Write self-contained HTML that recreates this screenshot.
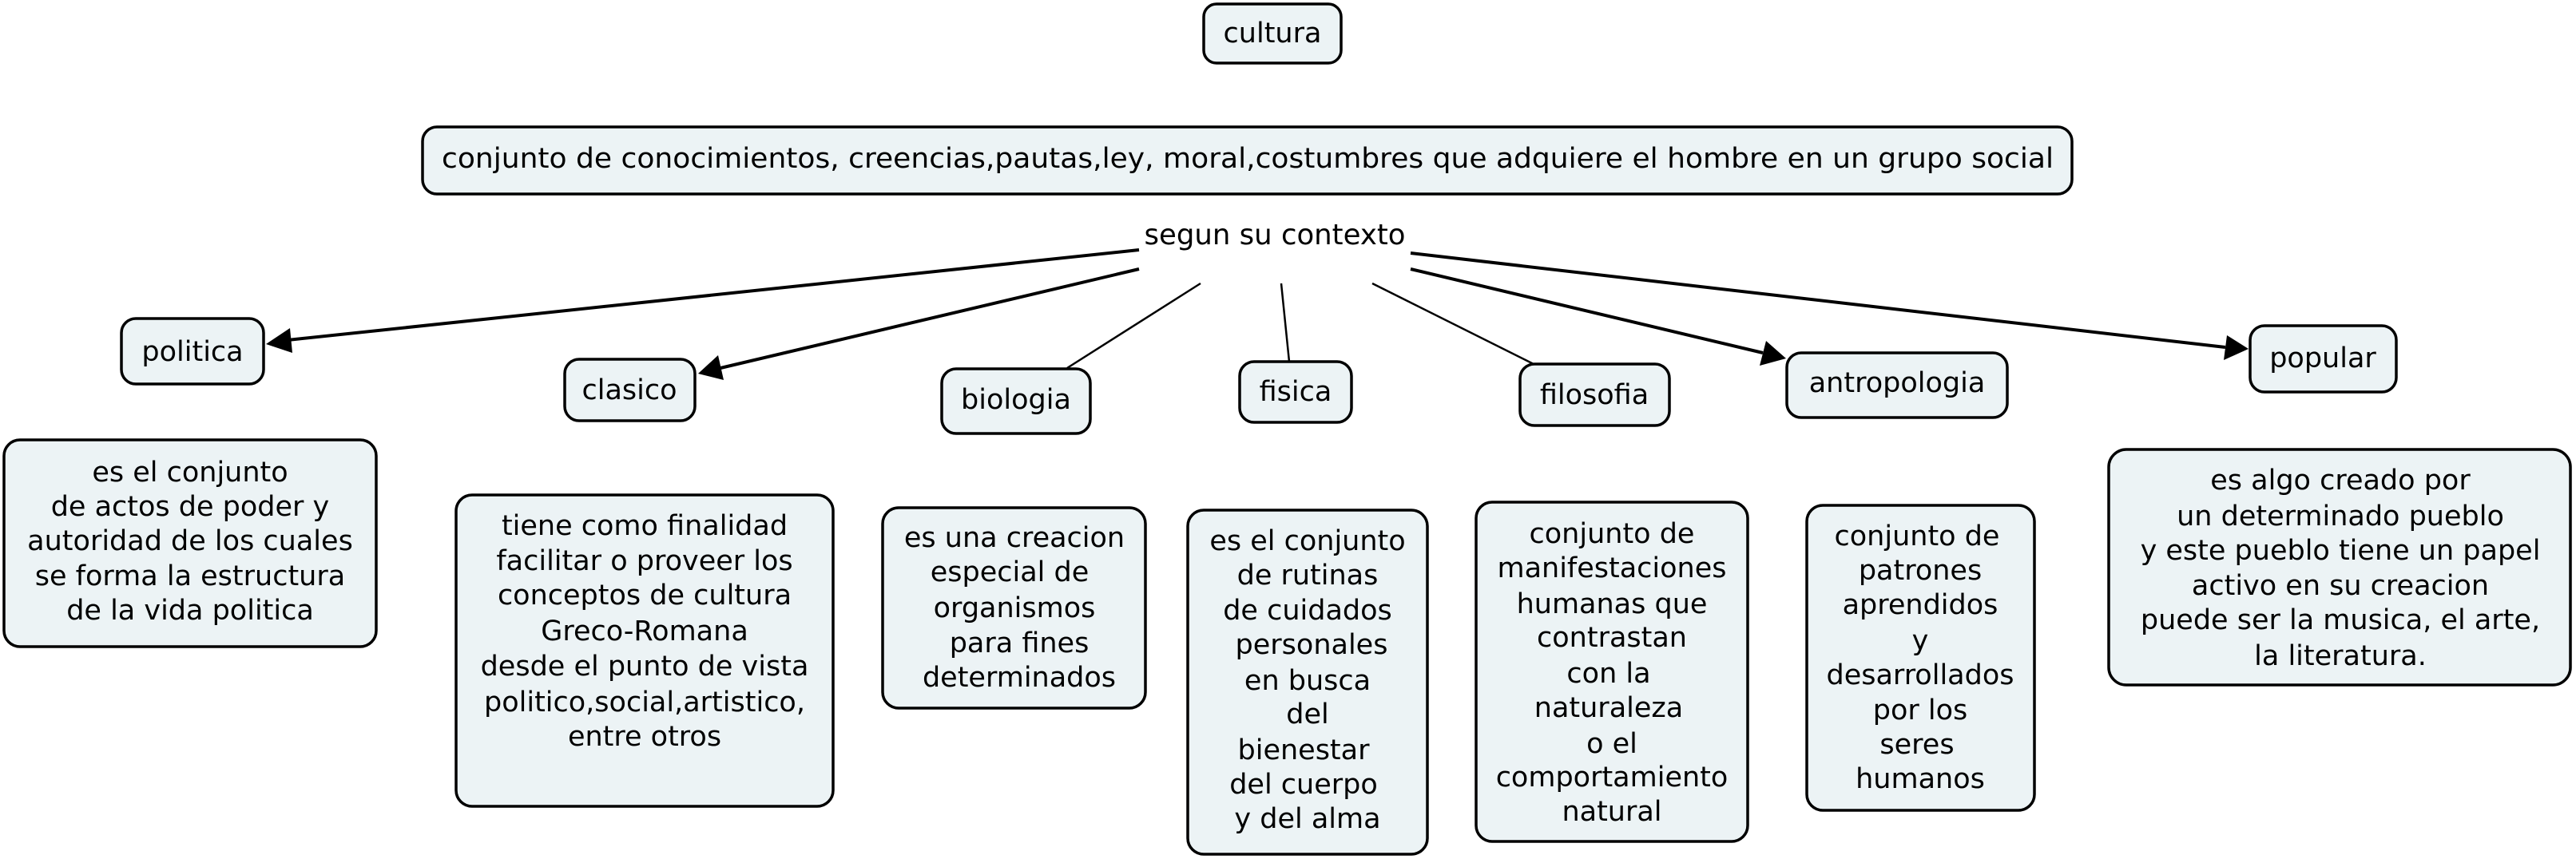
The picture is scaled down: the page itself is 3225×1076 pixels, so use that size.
<!DOCTYPE html>
<html><head><meta charset="utf-8"><style>
html,body{margin:0;padding:0;background:#fff;}
svg{display:block;}
text{font-family:"DejaVu Sans","Liberation Sans",sans-serif;font-size:35px;fill:#000;}
.b{fill:#ecf3f5;stroke:#000;stroke-width:3.5;}
</style></head><body>
<svg width="3225" height="1076" viewBox="0 0 3225 1076" xmlns="http://www.w3.org/2000/svg">
<g stroke="#000" fill="none">
<line x1="1426" y1="313" x2="360" y2="426" stroke-width="4"/>
<line x1="1426" y1="337" x2="902" y2="461" stroke-width="4"/>
<line x1="1503" y1="355" x2="1336" y2="461" stroke-width="2.5"/>
<line x1="1604" y1="355" x2="1614" y2="453" stroke-width="2.5"/>
<line x1="1718" y1="355" x2="1920" y2="456" stroke-width="2.5"/>
<line x1="1766" y1="337" x2="2207" y2="442" stroke-width="4"/>
<line x1="1766" y1="317" x2="2786" y2="435" stroke-width="4"/>
</g>
<g fill="#000">
<polygon points="333,431 363,411 366,442"/>
<polygon points="874,468 899,445 906,476"/>
<polygon points="2236,449 2203,458 2211,427"/>
<polygon points="2815,437 2784,451 2788,420"/>
</g>
<rect class="b" x="1507" y="5" width="172" height="74" rx="16"/>
<text x="1593" y="53" text-anchor="middle">cultura</text>
<rect class="b" x="529" y="159" width="2065" height="84" rx="18"/>
<text x="553" y="210" textLength="2018" lengthAdjust="spacingAndGlyphs">conjunto de conocimientos, creencias,pautas,ley, moral,costumbres que adquiere el hombre en un grupo social</text>
<text x="1596" y="306" text-anchor="middle" style="font-size:35.5px">segun su contexto</text>
<rect class="b" x="152" y="399" width="178" height="82" rx="18"/>
<text x="241" y="452" text-anchor="middle">politica</text>
<rect class="b" x="707" y="450" width="163" height="77" rx="18"/>
<text x="788" y="500" text-anchor="middle">clasico</text>
<rect class="b" x="1179" y="462" width="186" height="81" rx="18"/>
<text x="1272" y="512" text-anchor="middle">biologia</text>
<rect class="b" x="1552" y="453" width="140" height="76" rx="18"/>
<text x="1622" y="502" text-anchor="middle">fisica</text>
<rect class="b" x="1903" y="456" width="187" height="77" rx="18"/>
<text x="1996" y="506" text-anchor="middle">filosofia</text>
<rect class="b" x="2237" y="442" width="276" height="81" rx="18"/>
<text x="2375" y="491" text-anchor="middle">antropologia</text>
<rect class="b" x="2817" y="408" width="183" height="83" rx="18"/>
<text x="2908" y="460" text-anchor="middle">popular</text>
<rect class="b" x="5" y="551" width="466" height="259" rx="20"/>
<g text-anchor="middle">
<text x="238" y="603">es el conjunto</text>
<text x="238" y="646">de actos de poder y</text>
<text x="238" y="689">autoridad de los cuales</text>
<text x="238" y="733">se forma la estructura</text>
<text x="238" y="776">de la vida politica</text>
</g>
<rect class="b" x="571" y="620" width="472" height="390" rx="20"/>
<g text-anchor="middle">
<text x="807" y="670">tiene como finalidad</text>
<text x="807" y="714">facilitar o proveer los</text>
<text x="807" y="757">conceptos de cultura</text>
<text x="807" y="802">Greco-Romana</text>
<text x="807" y="846">desde el punto de vista</text>
<text x="807" y="891">politico,social,artistico,</text>
<text x="807" y="934">entre otros</text>
</g>
<rect class="b" x="1105" y="636" width="329" height="251" rx="20"/>
<g text-anchor="middle">
<text x="1270" y="685">es una creacion</text>
<text x="1264" y="728">especial de</text>
<text x="1270" y="773">organismos</text>
<text x="1276" y="817">para fines</text>
<text x="1276" y="860">determinados</text>
</g>
<rect class="b" x="1487" y="639" width="300" height="431" rx="20"/>
<g text-anchor="middle">
<text x="1637" y="689">es el conjunto</text>
<text x="1637" y="732">de rutinas</text>
<text x="1637" y="776">de cuidados</text>
<text x="1642" y="819">personales</text>
<text x="1637" y="864">en busca</text>
<text x="1637" y="906">del</text>
<text x="1632" y="951">bienestar</text>
<text x="1632" y="994">del cuerpo</text>
<text x="1637" y="1037">y del alma</text>
</g>
<rect class="b" x="1848" y="629" width="340" height="425" rx="20"/>
<g text-anchor="middle">
<text x="2018" y="680">conjunto de</text>
<text x="2018" y="723">manifestaciones</text>
<text x="2018" y="768">humanas que</text>
<text x="2018" y="810">contrastan</text>
<text x="2014" y="855">con la</text>
<text x="2014" y="898">naturaleza</text>
<text x="2018" y="943">o el</text>
<text x="2018" y="985">comportamiento</text>
<text x="2018" y="1028">natural</text>
</g>
<rect class="b" x="2262" y="633" width="285" height="382" rx="20"/>
<g text-anchor="middle">
<text x="2400" y="683">conjunto de</text>
<text x="2404" y="726">patrones</text>
<text x="2404" y="769">aprendidos</text>
<text x="2404" y="814">y</text>
<text x="2404" y="857">desarrollados</text>
<text x="2404" y="901">por los</text>
<text x="2400" y="944">seres</text>
<text x="2404" y="987">humanos</text>
</g>
<rect class="b" x="2640" y="563" width="578" height="295" rx="22"/>
<g text-anchor="middle">
<text x="2930" y="613">es algo creado por</text>
<text x="2930" y="658">un determinado pueblo</text>
<text x="2930" y="701">y este pueblo tiene un papel</text>
<text x="2930" y="745">activo en su creacion</text>
<text x="2930" y="788">puede ser la musica, el arte,</text>
<text x="2930" y="833">la literatura.</text>
</g>
</svg>
</body></html>
